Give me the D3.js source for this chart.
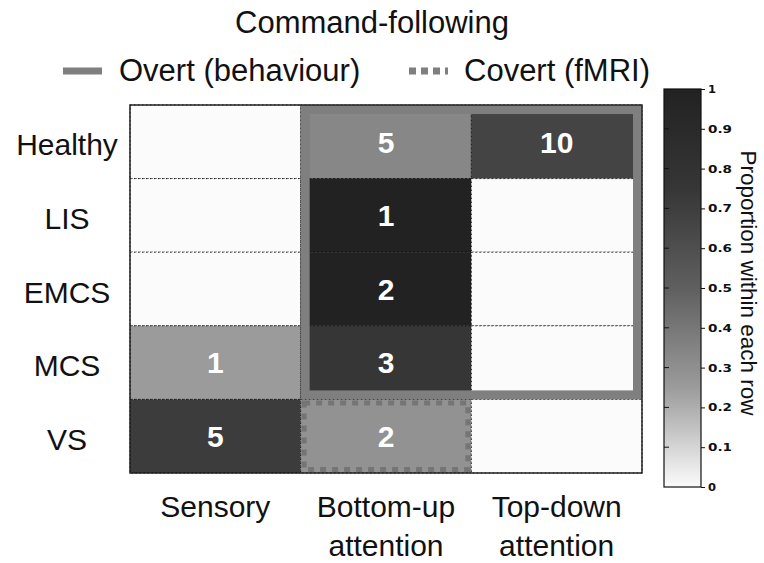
<!doctype html>
<html lang="en">
<head>
<meta charset="UTF-8">
<title>Command-following</title>
<style>
  body { margin: 0; background: #fff; }
  svg { display: block; font-family: "Liberation Sans", Arial, sans-serif; }
</style>
</head>
<body>
<div id="chart"></div>
<script src="https://d3js.org/d3.v7.min.js"></script>
<script>
// data
const rows = ['Healthy', 'LIS', 'EMCS', 'MCS', 'VS']
const cols = ['Sensory', 'Bottom-up attention', 'Top-down attention']
const healthyCounts = [0, 5, 10]
const lisCounts = [0, 1, 0]
const emcsCounts = [0, 2, 0]
const mcsCounts = [1, 3, 0]
const vsCounts = [5, 2, 0]
const counts = [healthyCounts, lisCounts, emcsCounts, mcsCounts, vsCounts]
// regions outlined by the legend styles
const overtRows = ['Healthy', 'MCS']
const overtCols = ['Bottom-up attention', 'Top-down attention']
const covertRows = ['VS', 'VS']
const covertCols = ['Bottom-up attention', 'Bottom-up attention']
const barTicks = [0, 0.1, 0.2, 0.3, 0.4, 0.5, 0.6, 0.7, 0.8, 0.9, 1]

const W = 764, H = 563
const plot = { left: 130, right: 642, top: 105, bottom: 473 }
const FS = 30

const svg = d3.select('#chart').append('svg')
    .attr('width', W)
    .attr('height', H)

const x = d3.scaleBand().domain(cols).range([plot.left, plot.right])
const y = d3.scaleBand().domain(rows).range([plot.top, plot.bottom])

// grey colormap, light at 0, dark at 1
const color = d3.scaleLinear()
    .domain([0, 0.25, 0.5, 0.75, 1])
    .range(['#fbfbfb', '#9b9b9b', '#5f5f5f', '#363636', '#222222'])

// flatten to cells with row proportion
const cells = []
rows.forEach((r, i) => {
    const total = d3.sum(counts[i])
    cols.forEach((c, j) => {
        cells.push({ row: r, col: c, n: counts[i][j], p: total ? counts[i][j] / total : 0 })
    })
})

// cells
svg.append('g').selectAll('rect')
    .data(cells)
    .join('rect')
    .attr('x', d => x(d.col))
    .attr('y', d => y(d.row))
    .attr('width', x.bandwidth())
    .attr('height', y.bandwidth())
    .attr('fill', d => color(d.p))
    .attr('stroke', '#111')
    .attr('stroke-width', 1)
    .attr('stroke-dasharray', '1.5,2.5')

// outlines for overt / covert command-following
function region(rr, cc) {
    const x0 = x(cc[0]), x1 = x(cc[1]) + x.bandwidth()
    const y0 = y(rr[0]), y1 = y(rr[1]) + y.bandwidth()
    return { x0, x1, y0, y1 }
}
const ov = region(overtRows, overtCols)
const ow = 9
svg.append('rect')
    .attr('x', ov.x0 + ow / 2).attr('y', ov.y0 + ow / 2)
    .attr('width', ov.x1 - ov.x0 - ow).attr('height', ov.y1 - ov.y0 - ow)
    .attr('fill', 'none')
    .attr('stroke', '#7f7f7f')
    .attr('stroke-width', ow)

const cv = region(covertRows, covertCols)
const cw = 5
svg.append('rect')
    .attr('x', cv.x0 + cw / 2 + 1).attr('y', cv.y0 + cw / 2 + 1)
    .attr('width', cv.x1 - cv.x0 - cw - 2).attr('height', cv.y1 - cv.y0 - cw - 2)
    .attr('fill', 'none')
    .attr('stroke', '#757575')
    .attr('stroke-width', cw)
    .attr('stroke-dasharray', '6,6')

// numbers
svg.append('g').selectAll('text')
    .data(cells.filter(d => d.n > 0))
    .join('text')
    .attr('x', d => x(d.col) + x.bandwidth() / 2)
    .attr('y', d => y(d.row) + y.bandwidth() / 2)
    .attr('dy', '0.36em')
    .attr('text-anchor', 'middle')
    .attr('fill', '#fff')
    .attr('font-weight', 'bold')
    .attr('font-size', 30)
    .text(d => d.n)

// frame
svg.append('rect')
    .attr('x', plot.left).attr('y', plot.top)
    .attr('width', plot.right - plot.left).attr('height', plot.bottom - plot.top)
    .attr('fill', 'none')
    .attr('stroke', '#222')
    .attr('stroke-width', 1.5)

// row labels
const yAxis = svg.append('g')
    .attr('transform', `translate(${plot.left},0)`)
    .call(d3.axisLeft(y).tickSize(0))
yAxis.select('.domain').remove()
yAxis.selectAll('text')
    .attr('x', -63)
    .attr('dy', '0.45em')
    .attr('text-anchor', 'middle')
    .attr('font-family', '"Liberation Sans", Arial, sans-serif')
    .attr('font-size', FS)
    .attr('fill', '#111')

// column labels, split onto two lines
const xAxis = svg.append('g')
    .attr('transform', `translate(0,${plot.bottom})`)
    .call(d3.axisBottom(x).tickSize(0).tickPadding(0))
xAxis.select('.domain').remove()
xAxis.selectAll('text')
    .attr('font-family', '"Liberation Sans", Arial, sans-serif')
    .attr('font-size', FS)
    .attr('fill', '#111')
    .attr('y', 0)
    .attr('dy', null)
    .each(function (d) {
        const t = d3.select(this)
        const words = d.split(' ')
        t.text(null)
        words.forEach((w, i) => {
            t.append('tspan')
                .attr('x', 0)
                .attr('y', 44 + i * 39)
                .text(w)
        })
    })

// title and legend
svg.append('text')
    .attr('x', 372).attr('y', 33)
    .attr('text-anchor', 'middle')
    .attr('font-size', 31)
    .attr('fill', '#111')
    .text('Command-following')

svg.append('line')
    .attr('x1', 63).attr('x2', 102)
    .attr('y1', 71).attr('y2', 71)
    .attr('stroke', '#7f7f7f')
    .attr('stroke-width', 7)
svg.append('text')
    .attr('x', 119).attr('y', 81)
    .attr('font-size', 31)
    .attr('fill', '#111')
    .text('Overt (behaviour)')

svg.append('line')
    .attr('x1', 409).attr('x2', 448)
    .attr('y1', 71).attr('y2', 71)
    .attr('stroke', '#7f7f7f')
    .attr('stroke-width', 7)
    .attr('stroke-dasharray', '7,5')
svg.append('text')
    .attr('x', 464).attr('y', 81)
    .attr('font-size', 31)
    .attr('fill', '#111')
    .text('Covert (fMRI)')

// colorbar
const bar = { x: 664, w: 37, top: 89, bottom: 487 }
const cb = d3.scaleLinear().domain([0, 1]).range([bar.bottom, bar.top])

const grad = svg.append('defs').append('linearGradient')
    .attr('id', 'cbar')
    .attr('x1', 0).attr('x2', 0).attr('y1', 1).attr('y2', 0)
grad.selectAll('stop')
    .data(d3.range(0, 1.001, 0.05))
    .join('stop')
    .attr('offset', d => d)
    .attr('stop-color', d => color(d))

svg.append('rect')
    .attr('x', bar.x).attr('y', bar.top)
    .attr('width', bar.w).attr('height', bar.bottom - bar.top)
    .attr('fill', 'url(#cbar)')
    .attr('stroke', '#111')
    .attr('stroke-width', 1.2)

// inner ticks on the left edge
svg.append('g').selectAll('line')
    .data(barTicks.slice(1, -1))
    .join('line')
    .attr('x1', bar.x).attr('x2', bar.x + 5)
    .attr('y1', d => cb(d)).attr('y2', d => cb(d))
    .attr('stroke', '#111')

const cAxis = svg.append('g')
    .attr('transform', `translate(${bar.x + bar.w},0)`)
    .call(d3.axisRight(cb).tickValues(barTicks).tickSize(4).tickPadding(3)
        .tickFormat(d3.format('~g')))
cAxis.select('.domain').remove()
cAxis.selectAll('.tick line').attr('stroke', '#111')
cAxis.selectAll('text')
    .attr('font-family', '"DejaVu Sans", sans-serif')
    .attr('font-weight', 'bold')
    .attr('font-size', 11)
    .attr('fill', '#111')
    .attr('lengthAdjust', 'spacingAndGlyphs')
    .attr('textLength', d => d3.format('~g')(d).length > 1 ? 24 : 8)

svg.append('text')
    .attr('transform', 'translate(741,283) rotate(90)')
    .attr('text-anchor', 'middle')
    .attr('font-size', 22.5)
    .attr('fill', '#111')
    .text('Proportion within each row')
</script>
</body>
</html>
